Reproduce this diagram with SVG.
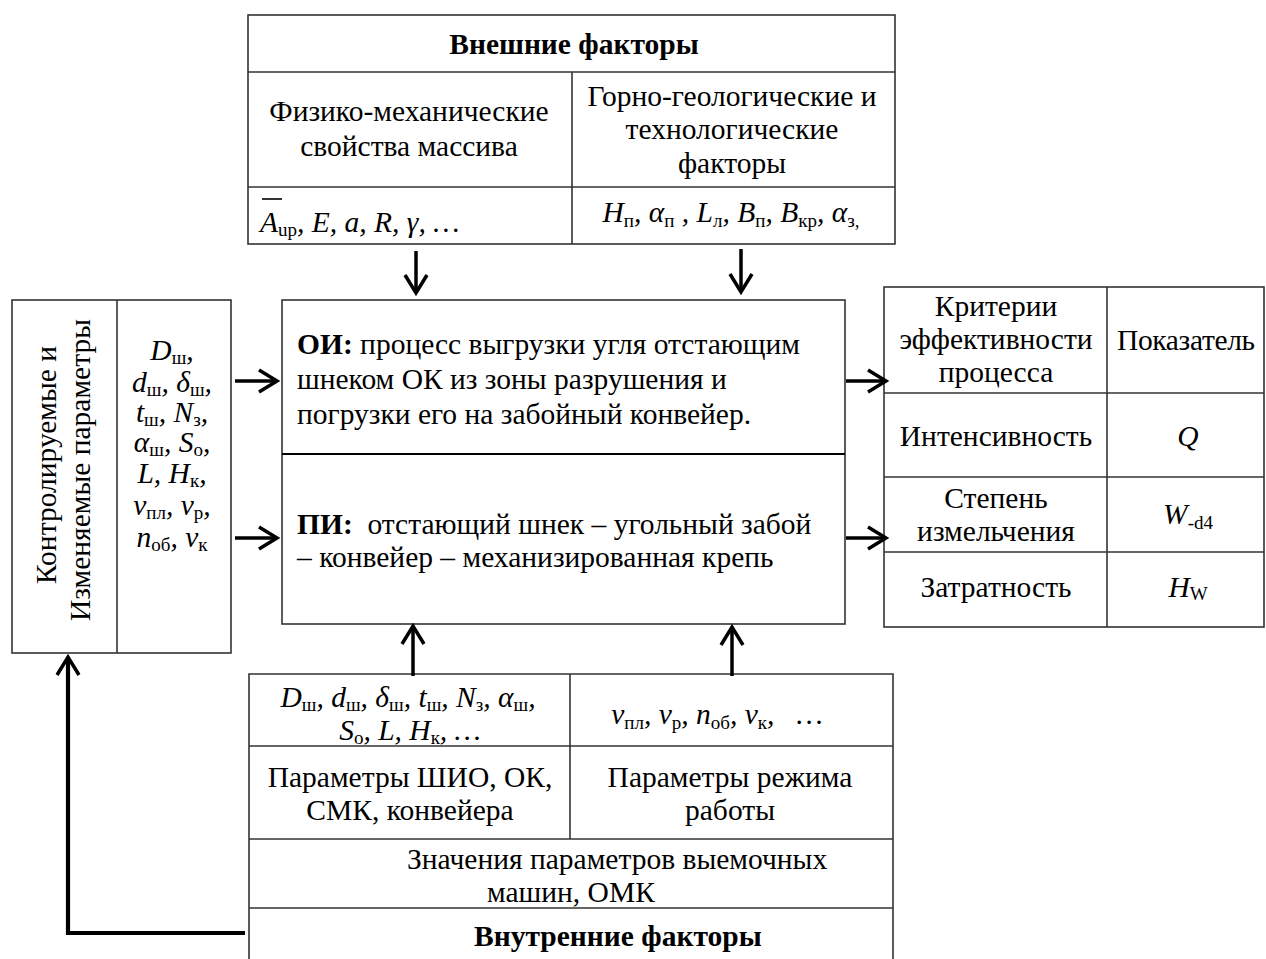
<svg xmlns="http://www.w3.org/2000/svg" width="1266" height="959" viewBox="0 0 1266 959">
<style>
.t{font-family:"Liberation Serif","Times New Roman",serif;font-size:29.5px;fill:#000}
.m{text-anchor:middle}
.i{font-style:italic}
.b{font-weight:bold}
.u{font-style:normal;font-size:19px}
.box{fill:none;stroke:#333;stroke-width:1.6}
.ln{stroke:#333;stroke-width:1.6}
.ar{fill:none;stroke:#000;stroke-width:3.5}
</style>
<defs>
<marker id="ah" markerUnits="userSpaceOnUse" viewBox="-24 -14 28 28" refX="0" refY="0" markerWidth="28" markerHeight="28" orient="auto">
<path d="M-18,-11 L0,0 L-18,11" fill="none" stroke="#000" stroke-width="3.5"/>
</marker>
</defs>
<rect width="1266" height="959" fill="#fff"/>

<g id="external">
<rect class="box" x="248" y="15" width="647" height="229"/>
<line class="ln" x1="248" y1="72" x2="895" y2="72"/>
<line class="ln" x1="248" y1="187" x2="895" y2="187"/>
<line class="ln" x1="572" y1="72" x2="572" y2="244"/>
<text class="t b m" x="574" y="54">Внешние факторы</text>
<text class="t m" x="409" y="121">Физико-механические</text>
<text class="t m" x="409" y="156">свойства массива</text>
<text class="t m" x="732" y="106">Горно-геологические и</text>
<text class="t m" x="732" y="139">технологические</text>
<text class="t m" x="732" y="173">факторы</text>
<line x1="262" y1="199" x2="282" y2="199" stroke="#000" stroke-width="1.6"/>
<text class="t i" x="260" y="232">A<tspan class="u" font-style="italic" dy="4">up</tspan><tspan dy="-4">, E, a, R, γ, …</tspan></text>
<text class="t i m" x="731" y="222">H<tspan class="u" dy="5">п</tspan><tspan dy="-5">, α</tspan><tspan class="u" dy="5">п</tspan><tspan dy="-5"> , L</tspan><tspan class="u" dy="5">л</tspan><tspan dy="-5">, B</tspan><tspan class="u" dy="5">п</tspan><tspan dy="-5">, B</tspan><tspan class="u" dy="5">кр</tspan><tspan dy="-5">, α</tspan><tspan class="u" dy="5">з,</tspan></text>
</g>

<g id="object">
<rect class="box" x="282" y="300" width="563" height="324"/>
<line x1="282" y1="454" x2="845" y2="454" stroke="#000" stroke-width="2"/>
<text class="t" x="297" y="354"><tspan class="b">ОИ:</tspan> процесс выгрузки угля отстающим</text>
<text class="t" x="297" y="389">шнеком ОК из зоны разрушения и</text>
<text class="t" x="297" y="424">погрузки его на забойный конвейер.</text>
<text class="t" x="297" y="534" xml:space="preserve"><tspan class="b">ПИ:</tspan>  отстающий шнек – угольный забой</text>
<text class="t" x="297" y="567">– конвейер – механизированная крепь</text>
</g>

<g id="controlled">
<rect class="box" x="12" y="300" width="219" height="353"/>
<line class="ln" x1="117" y1="300" x2="117" y2="653"/>
<text class="t m" transform="translate(56,465) rotate(-90)">Контролируемые и</text>
<text class="t m" transform="translate(90,470) rotate(-90)">Изменяемые параметры</text>
<text class="t i m" x="172" y="360">D<tspan class="u" dy="4">ш</tspan><tspan dy="-4">,</tspan></text>
<text class="t i m" x="172" y="392">d<tspan class="u" dy="4">ш</tspan><tspan dy="-4">, δ</tspan><tspan class="u" dy="4">ш</tspan><tspan dy="-4">,</tspan></text>
<text class="t i m" x="172" y="422">t<tspan class="u" dy="4">ш</tspan><tspan dy="-4">, N</tspan><tspan class="u" dy="4">з</tspan><tspan dy="-4">,</tspan></text>
<text class="t i m" x="172" y="452">α<tspan class="u" dy="4">ш</tspan><tspan dy="-4">, S</tspan><tspan class="u" dy="4">о</tspan><tspan dy="-4">,</tspan></text>
<text class="t i m" x="172" y="483">L, H<tspan class="u" dy="4">к</tspan><tspan dy="-4">,</tspan></text>
<text class="t i m" x="172" y="515">v<tspan class="u" dy="4">пл</tspan><tspan dy="-4">, v</tspan><tspan class="u" dy="4">р</tspan><tspan dy="-4">,</tspan></text>
<text class="t i m" x="172" y="547">n<tspan class="u" dy="4">об</tspan><tspan dy="-4">, v</tspan><tspan class="u" dy="4">к</tspan></text>
</g>

<g id="criteria">
<rect class="box" x="884" y="287" width="380" height="340"/>
<line class="ln" x1="1107" y1="287" x2="1107" y2="627"/>
<line class="ln" x1="884" y1="393" x2="1264" y2="393"/>
<line class="ln" x1="884" y1="477" x2="1264" y2="477"/>
<line class="ln" x1="884" y1="552" x2="1264" y2="552"/>
<text class="t m" x="996" y="316">Критерии</text>
<text class="t m" x="996" y="349">эффективности</text>
<text class="t m" x="996" y="382">процесса</text>
<text class="t m" x="1186" y="350" textLength="138">Показатель</text>
<text class="t m" x="996" y="446">Интенсивность</text>
<text class="t i m" x="1188" y="446">Q</text>
<text class="t m" x="996" y="508">Степень</text>
<text class="t m" x="996" y="541">измельчения</text>
<text class="t i m" x="1188" y="524">W<tspan class="u" dy="5">-d4</tspan></text>
<text class="t m" x="996" y="597">Затратность</text>
<text class="t i m" x="1188" y="597">H<tspan class="u" dy="3">W</tspan></text>
</g>

<g id="internal">
<path class="box" d="M249,962 V674 H893 V962"/>
<line class="ln" x1="249" y1="746" x2="893" y2="746"/>
<line class="ln" x1="249" y1="839" x2="893" y2="839"/>
<line class="ln" x1="249" y1="908" x2="893" y2="908"/>
<line class="ln" x1="570" y1="674" x2="570" y2="839"/>
<text class="t i m" x="408" y="707">D<tspan class="u" dy="4">ш</tspan><tspan dy="-4">, d</tspan><tspan class="u" dy="4">ш</tspan><tspan dy="-4">, δ</tspan><tspan class="u" dy="4">ш</tspan><tspan dy="-4">, t</tspan><tspan class="u" dy="4">ш</tspan><tspan dy="-4">, N</tspan><tspan class="u" dy="4">з</tspan><tspan dy="-4">, α</tspan><tspan class="u" dy="4">ш</tspan><tspan dy="-4">,</tspan></text>
<text class="t i m" x="410" y="740">S<tspan class="u" dy="4">о</tspan><tspan dy="-4">, L, H</tspan><tspan class="u" dy="4">к</tspan><tspan dy="-4">, …</tspan></text>
<text class="t i m" x="717" y="724" xml:space="preserve">v<tspan class="u" dy="5">пл</tspan><tspan dy="-5">, v</tspan><tspan class="u" dy="5">р</tspan><tspan dy="-5">, n</tspan><tspan class="u" dy="5">об</tspan><tspan dy="-5">, v</tspan><tspan class="u" dy="5">к</tspan><tspan dy="-5">,   …</tspan></text>
<text class="t m" x="410" y="787">Параметры ШИО, ОК,</text>
<text class="t m" x="410" y="820">СМК, конвейера</text>
<text class="t m" x="730" y="787">Параметры режима</text>
<text class="t m" x="730" y="820">работы</text>
<text class="t" x="407" y="869">Значения параметров выемочных</text>
<text class="t" x="487" y="902">машин, ОМК</text>
<text class="t b" x="474" y="946">Внутренние факторы</text>
</g>

<g id="connectors">
<line class="ar" x1="416" y1="251" x2="416" y2="293" marker-end="url(#ah)"/>
<line class="ar" x1="741" y1="249" x2="741" y2="292" marker-end="url(#ah)"/>
<line class="ar" x1="235" y1="381" x2="277" y2="381" marker-end="url(#ah)"/>
<line class="ar" x1="235" y1="538" x2="277" y2="538" marker-end="url(#ah)"/>
<line class="ar" x1="846" y1="381" x2="886" y2="381" marker-end="url(#ah)"/>
<line class="ar" x1="846" y1="538" x2="886" y2="538" marker-end="url(#ah)"/>
<line class="ar" x1="413" y1="676" x2="413" y2="626" marker-end="url(#ah)"/>
<line class="ar" x1="732" y1="676" x2="732" y2="627" marker-end="url(#ah)"/>
<path d="M245,933 H68 V657" fill="none" stroke="#000" stroke-width="4.2" marker-end="url(#ah)"/>
</g>
</svg>
